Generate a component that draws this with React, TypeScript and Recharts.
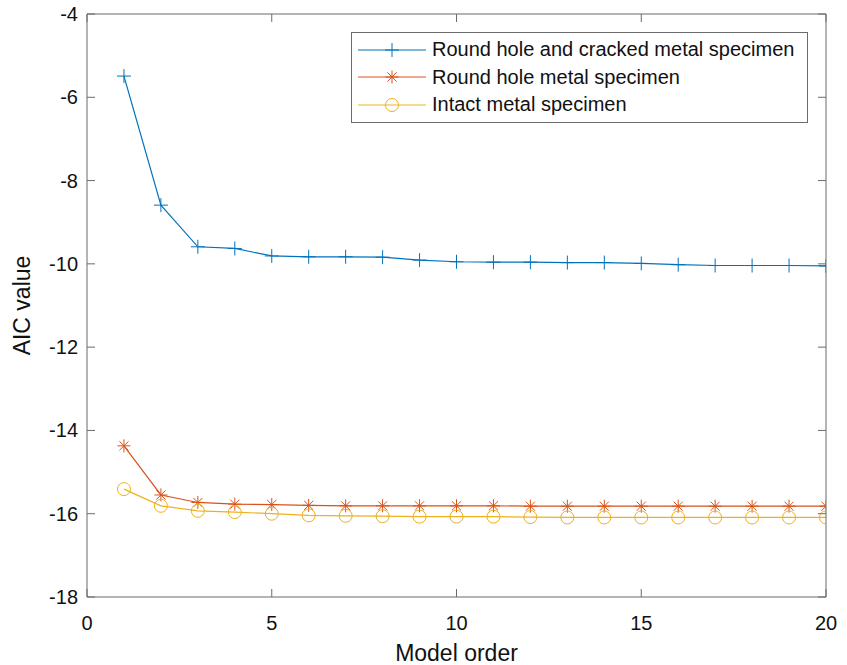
import { LineChart, Line, XAxis, YAxis, Legend, Label } from "recharts";

const modelOrder = [1, 2, 3, 4, 5, 6, 7, 8, 9, 10, 11, 12, 13, 14, 15, 16, 17, 18, 19, 20];
const crackedSpecimen = [
  -5.49, -8.59, -9.59, -9.63, -9.81, -9.83, -9.83, -9.84, -9.91, -9.95,
  -9.96, -9.96, -9.97, -9.97, -9.99, -10.02, -10.04, -10.04, -10.04, -10.05,
];
const holeSpecimen = [
  -14.37, -15.55, -15.73, -15.77, -15.78, -15.8, -15.81, -15.81, -15.81, -15.81,
  -15.81, -15.82, -15.82, -15.82, -15.82, -15.82, -15.82, -15.82, -15.82, -15.82,
];
const intactSpecimen = [
  -15.41, -15.81, -15.93, -15.96, -16.0, -16.04, -16.05, -16.06, -16.07, -16.07,
  -16.07, -16.08, -16.09, -16.09, -16.09, -16.09, -16.09, -16.09, -16.09, -16.09,
];
const xTicks = [0, 5, 10, 15, 20];
const yTicks = [-18, -16, -14, -12, -10, -8, -6, -4];
const seriesNames = [
  "Round hole and cracked metal specimen",
  "Round hole metal specimen",
  "Intact metal specimen",
];

const BLUE = "#0072BD";
const ORANGE = "#D95319";
const YELLOW = "#EDB120";
const AXIS = "#6b6b6b";
const FONT = "'Liberation Sans', Arial, sans-serif";
const TICK_LEN = 8;

const data = modelOrder.map((o, i) => ({
  order: o,
  cracked: crackedSpecimen[i],
  hole: holeSpecimen[i],
  intact: intactSpecimen[i],
}));

function PlusMark({ cx, cy, color }: any) {
  const s = 7;
  return (
    <g stroke={color} strokeWidth={1}>
      <line x1={cx - s} y1={cy} x2={cx + s} y2={cy} />
      <line x1={cx} y1={cy - s} x2={cx} y2={cy + s} />
    </g>
  );
}

function StarMark({ cx, cy, color }: any) {
  const s = 6.5;
  const d = s * 0.7;
  return (
    <g stroke={color} strokeWidth={1}>
      <line x1={cx - s} y1={cy} x2={cx + s} y2={cy} />
      <line x1={cx} y1={cy - s} x2={cx} y2={cy + s} />
      <line x1={cx - d} y1={cy - d} x2={cx + d} y2={cy + d} />
      <line x1={cx - d} y1={cy + d} x2={cx + d} y2={cy - d} />
    </g>
  );
}

function CircleMark({ cx, cy, color }: any) {
  return <circle cx={cx} cy={cy} r={6.5} fill="none" stroke={color} strokeWidth={1} />;
}

const markers = [
  { Mark: PlusMark, color: BLUE },
  { Mark: StarMark, color: ORANGE },
  { Mark: CircleMark, color: YELLOW },
];

function LeftTick({ x, y, payload }: any) {
  return (
    <g>
      <line x1={x} y1={y} x2={x + TICK_LEN} y2={y} stroke={AXIS} />
      <text x={x - 9} y={y} dy={7} textAnchor="end" fontSize={20} fontFamily={FONT} fill="#111">
        {payload.value}
      </text>
    </g>
  );
}

function RightTick({ x, y }: any) {
  return <line x1={x} y1={y} x2={x - TICK_LEN} y2={y} stroke={AXIS} />;
}

function BottomTick({ x, y, payload }: any) {
  return (
    <g>
      <line x1={x} y1={y} x2={x} y2={y - TICK_LEN} stroke={AXIS} />
      <text x={x} y={y + 33} textAnchor="middle" fontSize={20} fontFamily={FONT} fill="#111">
        {payload.value}
      </text>
    </g>
  );
}

function TopTick({ x, y }: any) {
  return <line x1={x} y1={y} x2={x} y2={y + TICK_LEN} stroke={AXIS} />;
}

function LegendBox() {
  return (
    <div
      style={{
        width: 455,
        height: 86,
        border: `1px solid ${AXIS}`,
        background: "#fff",
        boxSizing: "content-box",
        paddingTop: 3,
      }}
    >
      {seriesNames.map((name, i) => {
        const { Mark, color } = markers[i];
        return (
          <div key={name} style={{ display: "flex", alignItems: "center", height: 27.5 }}>
            <svg width={80} height={24} style={{ display: "block" }}>
              <line x1={6} y1={12} x2={74} y2={12} stroke={color} strokeWidth={1.2} />
              <Mark cx={40} cy={12} color={color} />
            </svg>
            <span style={{ fontFamily: FONT, fontSize: 20, color: "#111", marginLeft: 0, whiteSpace: "nowrap" }}>
              {name}
            </span>
          </div>
        );
      })}
    </div>
  );
}

function YTitle(props: any) {
  const { viewBox } = props;
  const x = viewBox.x + 22;
  const y = viewBox.y + viewBox.height / 2;
  return (
    <text
      x={x}
      y={y}
      transform={`rotate(-90, ${x}, ${y})`}
      textAnchor="middle"
      dominantBaseline="central"
      fontSize={23}
      fontFamily={FONT}
      fill="#111"
    >
      AIC value
    </text>
  );
}

function XTitle(props: any) {
  const { viewBox } = props;
  return (
    <text
      x={viewBox.x + viewBox.width / 2}
      y={viewBox.y + 56}
      textAnchor="middle"
      dominantBaseline="central"
      fontSize={23}
      fontFamily={FONT}
      fill="#111"
    >
      Model order
    </text>
  );
}

export default function App() {
  return (
    <div style={{ position: "absolute", left: 0, top: 0, background: "#fff" }}>
      <LineChart width={847} height={665} data={data} margin={{ top: 0, right: 0, bottom: 0, left: 0 }}>
        <XAxis
          dataKey="order"
          type="number"
          domain={[0, 20]}
          ticks={xTicks}
          interval={0}
          allowDataOverflow
          height={68}
          tickSize={0}
          tickMargin={0}
          tickLine={false}
          axisLine={{ stroke: AXIS }}
          tick={<BottomTick />}
        >
          <Label content={<XTitle />} />
        </XAxis>
        <XAxis
          xAxisId="top"
          orientation="top"
          dataKey="order"
          type="number"
          domain={[0, 20]}
          ticks={xTicks}
          interval={0}
          allowDataOverflow
          height={14}
          tickSize={0}
          tickMargin={0}
          tickLine={false}
          axisLine={{ stroke: AXIS }}
          tick={<TopTick />}
        />
        <YAxis
          type="number"
          domain={[-18, -4]}
          ticks={yTicks}
          interval={0}
          allowDataOverflow
          width={87}
          tickSize={0}
          tickMargin={0}
          tickLine={false}
          axisLine={{ stroke: AXIS }}
          tick={<LeftTick />}
        >
          <Label content={<YTitle />} />
        </YAxis>
        <YAxis
          yAxisId="right"
          orientation="right"
          type="number"
          domain={[-18, -4]}
          ticks={yTicks}
          interval={0}
          allowDataOverflow
          width={21}
          tickSize={0}
          tickMargin={0}
          tickLine={false}
          axisLine={{ stroke: AXIS }}
          tick={<RightTick />}
        />
        <Legend
          layout="vertical"
          align="center"
          verticalAlign="middle"
          wrapperStyle={{ left: 351, top: 32, width: 457 }}
          content={<LegendBox />}
        />
        <Line
          dataKey="cracked"
          stroke={BLUE}
          strokeWidth={1.2}
          isAnimationActive={false}
          dot={(p: any) => <PlusMark key={`c${p.index}`} cx={p.cx} cy={p.cy} color={BLUE} />}
          activeDot={false}
        />
        <Line
          dataKey="hole"
          stroke={ORANGE}
          strokeWidth={1.2}
          isAnimationActive={false}
          dot={(p: any) => <StarMark key={`h${p.index}`} cx={p.cx} cy={p.cy} color={ORANGE} />}
          activeDot={false}
        />
        <Line
          dataKey="intact"
          stroke={YELLOW}
          strokeWidth={1.2}
          isAnimationActive={false}
          dot={(p: any) => <CircleMark key={`i${p.index}`} cx={p.cx} cy={p.cy} color={YELLOW} />}
          activeDot={false}
        />
      </LineChart>
    </div>
  );
}
